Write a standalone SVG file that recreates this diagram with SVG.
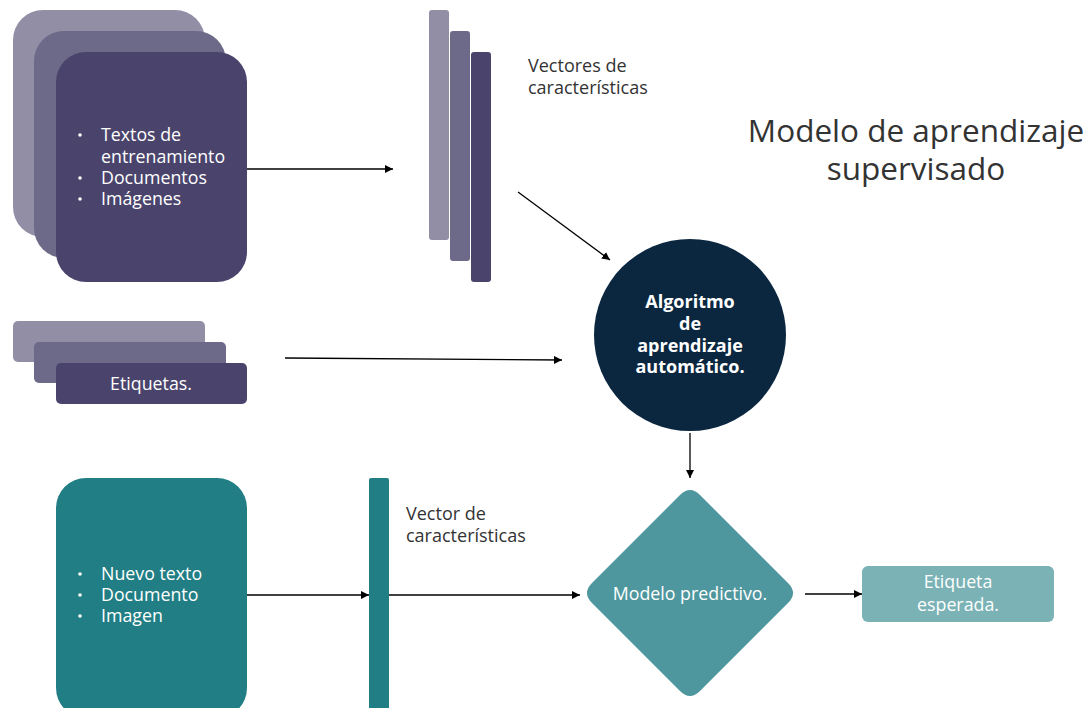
<svg xmlns="http://www.w3.org/2000/svg" width="1089" height="708" viewBox="0 0 1089 708">
<style>
text{font-family:"Open Sans","Noto Sans","Liberation Sans",sans-serif}
.w{fill:#ffffff;font-size:17.8px}
.d{fill:#333333;font-size:18px}
.c1{fill:#918ea6}
.c2{fill:#6d6989}
.c3{fill:#4a446c}
.teal{fill:#217e84}
.bul{fill:#ffffff}
.ln{stroke:#000;stroke-width:1.3;fill:none;marker-end:url(#ah)}
</style>
<defs>
<marker id="ah" viewBox="0 0 10 10" refX="10" refY="5" markerWidth="8" markerHeight="8" markerUnits="userSpaceOnUse" orient="auto">
<path d="M0,0 L10,5 L0,10 z" fill="#000"/>
</marker>
</defs>
<rect width="1089" height="708" fill="#ffffff"/>
<g id="textos">
<rect class="c1" x="13" y="10" width="192" height="227" rx="30"/>
<rect class="c2" x="34" y="31" width="192" height="227" rx="30"/>
<rect class="c3" x="56" y="52" width="191" height="230" rx="30"/>
<circle class="bul" cx="80" cy="135" r="1.8"/>
<circle class="bul" cx="80" cy="178" r="1.8"/>
<circle class="bul" cx="80" cy="199" r="1.8"/>
<text class="w"><tspan x="101" y="141">Textos de</tspan><tspan x="101" y="163">entrenamiento</tspan><tspan x="101" y="184">Documentos</tspan><tspan x="101" y="205">Imágenes</tspan></text>
</g>
<g id="etiquetas">
<rect class="c1" x="13" y="321" width="192" height="41" rx="5"/>
<rect class="c2" x="34" y="342" width="192" height="41" rx="5"/>
<rect class="c3" x="56" y="363" width="191" height="41" rx="5"/>
<text class="w" x="151" y="390" text-anchor="middle">Etiquetas.</text>
</g>
<g id="vectores">
<rect class="c1" x="429" y="10" width="20" height="230" rx="3"/>
<rect class="c2" x="450" y="31" width="20" height="230" rx="3"/>
<rect class="c3" x="471" y="52" width="20" height="230" rx="3"/>
<text class="d"><tspan x="528" y="72">Vectores de</tspan><tspan x="528" y="94">características</tspan></text>
</g>
<g id="titulo">
<text x="916" y="142" text-anchor="middle" font-size="31.5" fill="#333333">Modelo de aprendizaje</text>
<text x="916" y="180" text-anchor="middle" font-size="31.5" fill="#333333">supervisado</text>
</g>
<g id="algoritmo">
<circle cx="690" cy="335" r="96" fill="#0b2740"/>
<text fill="#ffffff" font-size="18" font-weight="bold" text-anchor="middle"><tspan x="690" y="308">Algoritmo</tspan><tspan x="690" y="330">de</tspan><tspan x="690" y="352">aprendizaje</tspan><tspan x="690" y="373">automático.</tspan></text>
</g>
<g id="nuevo">
<rect class="teal" x="56" y="478" width="191" height="240" rx="30"/>
<circle class="bul" cx="80" cy="574" r="1.8"/>
<circle class="bul" cx="80" cy="595" r="1.8"/>
<circle class="bul" cx="80" cy="616" r="1.8"/>
<text class="w"><tspan x="101" y="580">Nuevo texto</tspan><tspan x="101" y="601">Documento</tspan><tspan x="101" y="622">Imagen</tspan></text>
</g>
<g id="vector">
<rect class="teal" x="369" y="478" width="20" height="235" rx="2"/>
<text class="d"><tspan x="406" y="520">Vector de</tspan><tspan x="406" y="542">características</tspan></text>
</g>
<g id="modelo">
<path d="M680,495 Q690,485 700,495 L788,583 Q798,593 788,603 L700,691 Q690,701 680,691 L592,603 Q582,593 592,583 Z" fill="#4f979e"/>
<text class="w" x="690" y="600" text-anchor="middle">Modelo predictivo.</text>
</g>
<g id="esperada">
<rect x="862" y="566" width="192" height="56" rx="6" fill="#7ab2b6"/>
<text class="w" text-anchor="middle"><tspan x="958" y="588">Etiqueta</tspan><tspan x="958" y="611">esperada.</tspan></text>
</g>
<g id="connectors">
<line class="ln" x1="247" y1="169" x2="393" y2="169"/>
<line class="ln" x1="518" y1="192" x2="610" y2="260"/>
<line class="ln" x1="285" y1="358" x2="562" y2="360"/>
<line class="ln" x1="690" y1="433" x2="690" y2="478"/>
<line class="ln" x1="247" y1="595" x2="369" y2="595"/>
<line class="ln" x1="389" y1="595" x2="580" y2="595"/>
<line class="ln" x1="805" y1="594" x2="862" y2="594"/>
</g>
</svg>
